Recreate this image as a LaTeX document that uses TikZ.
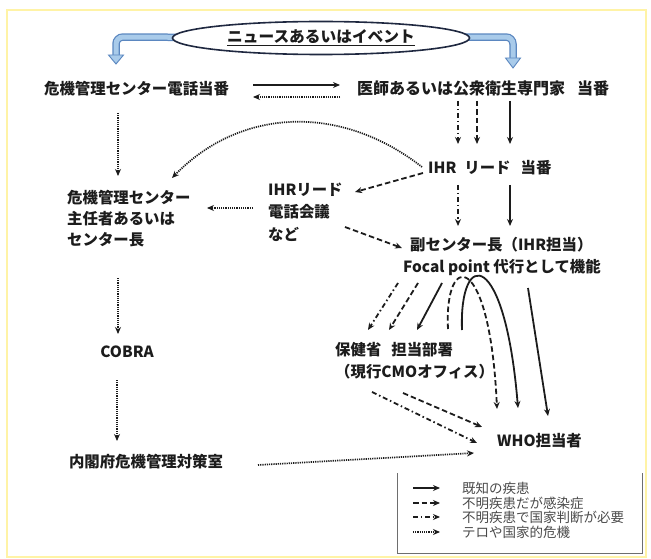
\documentclass[tikz,border=0pt]{standalone}
\usepackage{fontspec}
\setmainfont{Noto Sans CJK JP}
\usetikzlibrary{arrows.meta,calc,shapes.geometric}
\definecolor{ink}{HTML}{1C1C1C}
\definecolor{frameyel}{HTML}{FFF3A6}
\definecolor{bluedk}{HTML}{5B87C0}
\definecolor{bluelt}{HTML}{A9CBEA}
\definecolor{navy}{HTML}{1F2840}
\definecolor{legtxt}{HTML}{4A4A4A}
\begin{document}
\begin{tikzpicture}[x=1pt,y=-1pt,
  lbl/.style={font=\fontsize{15.4}{21}\selectfont\bfseries, inner sep=0pt, text=ink, align=left},
  leg/.style={font=\fontsize{13.5}{14}\selectfont, inner sep=0pt, text=legtxt, anchor=west},
  con/.style={draw=ink, line width=1.8pt, -{Stealth[length=7pt,width=6pt]}},
  sol/.style={con},
  dsh/.style={con, dash pattern=on 5.5pt off 3pt},
  dd/.style={con, dash pattern=on 5pt off 2.8pt on 1.5pt off 2.8pt},
  dot/.style={con, line width=1.7pt, dash pattern=on 1.2pt off 1pt},
  blueshaft/.style={rounded corners=7pt},
]
\useasboundingbox (0,0) rectangle (651,559);
\draw[frameyel, line width=2.5pt] (7,10) rectangle (646,557);

% title ellipse with blue bent arrows
\coordinate (tc) at (321,38);
\coordinate (bl) at (116,64);
\coordinate (br) at (513,68);
\draw[bluedk, line width=7.5pt, blueshaft] (tc) -- (116,37) -- (116,56);
\draw[bluelt, line width=5pt, blueshaft] (tc) -- (116,37) -- (116,56);
\draw[bluedk, line width=7.5pt, blueshaft] (tc) -- (513,37) -- (513,59);
\draw[bluelt, line width=5pt, blueshaft] (tc) -- (513,37) -- (513,59);
\filldraw[fill=bluelt, draw=bluedk, line width=0.9pt] (108.5,55) -- (123.5,55) -- (bl) -- cycle;
\filldraw[fill=bluelt, draw=bluedk, line width=0.9pt] (505.5,58) -- (520.5,58) -- (br) -- cycle;
\node[ellipse, draw=navy, line width=1.6pt, fill=white, minimum width=297pt, minimum height=33pt, inner sep=0pt,
      font=\fontsize{15.7}{18}\selectfont\bfseries, text=ink] (t) at (tc) {\underline{ニュースあるいはイベント}};

% nodes
\node[lbl, anchor=west] (a) at (44,89) {危機管理センター電話当番};
\node[lbl, anchor=west, font=\fontsize{16}{21}\selectfont\bfseries] (b) at (357,88) {医師あるいは公衆衛生専門家\hspace{12pt}当番};
\node[lbl, anchor=west] (d) at (428,168) {IHR\hspace{8pt}リード\hspace{10pt}当番};
\node[lbl, anchor=west] (c) at (67,219) {危機管理センター\\主任者あるいは\\センター長};
\node[lbl, anchor=west, font=\fontsize{15.4}{22.5}\selectfont\bfseries] (e) at (268,212) {IHRリード\\電話会議\\など};
\node[lbl, anchor=west, font=\fontsize{15.4}{22}\selectfont\bfseries] (f) at (403,256) {\hspace{7pt}副センター長（IHR担当）\\Focal point 代行として機能};
\node[lbl] (g) at (127,352) {COBRA};
\node[lbl] (h) at (146,462) {内閣府危機管理対策室};
\node[lbl, anchor=west, font=\fontsize{15.4}{22}\selectfont\bfseries] (k) at (335,361) {保健省\hspace{10pt}担当部署\\（現行CMOオフィス）};
\node[lbl, anchor=west] (w) at (497,441) {WHO担当者};

% connectors
\draw[sol] ($(a.west)+(209,-4)$) -- ($(b.west)+(-17,-3)$);
\draw[dot] ($(b.west)+(-17,9)$) -- ($(a.west)+(209,8)$);
\draw[dot] ($(a.west)+(74,24)$) -- ($(c.west)+(51,-43)$);

\draw[dd]  ($(b.west)+(101,13)$) -- ($(d.west)+(30,-24)$);
\draw[dsh] ($(b.west)+(120,13)$) -- ($(d.west)+(49,-24)$);
\draw[sol] ($(b.west)+(153,13)$) -- ($(d.west)+(82,-24)$);

\draw[dot] ($(d.west)+(-6,-1)$) .. controls (340,103) and (240,108) .. ($(c.west)+(105,-41)$);
\draw[dsh] ($(d.west)+(-5,5)$) -- ($(e.west)+(87,-20)$);
\draw[dot] ($(e.west)+(-15,-4)$) -- ($(c.west)+(140,-11)$);

\draw[dd]  ($(d.west)+(30,17)$) -- ($(f.west)+(55,-30)$);
\draw[sol] ($(d.west)+(82,17)$) -- ($(f.west)+(107,-30)$);
\draw[dsh] ($(e.west)+(77,15)$) -- ($(f.west)+(-1,-8)$);

\draw[dot] ($(c.west)+(51,59)$) -- ($(g.center)+(-9,-18)$);
\draw[dot] ($(g.center)+(-10,28)$) -- ($(h.center)+(-29,-21)$);
\draw[dot] ($(h.center)+(112,3)$) -- ($(w.west)+(-23,12)$);

\draw[dd]  ($(f.west)+(-5,27)$) -- ($(k.west)+(33,-31)$);
\draw[dsh] ($(f.west)+(15,27)$) -- ($(k.west)+(54,-31)$);
\draw[sol] ($(f.west)+(39,27)$) -- ($(k.west)+(82,-31)$);

\draw[dsh] ($(k.west)+(113,-32)$) .. controls (444,250) and (490,250) .. ($(w.west)+(0,-32)$);
\draw[sol] ($(k.west)+(127,-31)$) .. controls (459,248) and (505,248) .. ($(w.west)+(21,-33)$);
\draw[sol] ($(f.west)+(125,32)$) -- ($(w.west)+(51,-25)$);

\draw[dsh] ($(k.west)+(68,32)$) -- ($(w.west)+(-15,-14)$);
\draw[dd]  ($(k.west)+(37,31)$) -- ($(w.west)+(-20,2)$);

% legend
\draw[legtxt!80, line width=1pt] (397,473) -- (397,553) -- (642,553) -- (642,473);
\node[leg] (l1) at (462,488) {既知の疾患};
\node[leg] (l2) at (462,503) {不明疾患だが感染症};
\node[leg] (l3) at (462,517) {不明疾患で国家判断が必要};
\node[leg] (l4) at (462,532) {テロや国家的危機};
\draw[sol] ($(l1.west)+(-49,0)$) -- ($(l1.west)+(-22,0)$);
\draw[dsh] ($(l2.west)+(-49,0)$) -- ($(l2.west)+(-22,0)$);
\draw[dd]  ($(l3.west)+(-49,0)$) -- ($(l3.west)+(-22,0)$);
\draw[dot] ($(l4.west)+(-49,0)$) -- ($(l4.west)+(-22,0)$);
\end{tikzpicture}
\end{document}
